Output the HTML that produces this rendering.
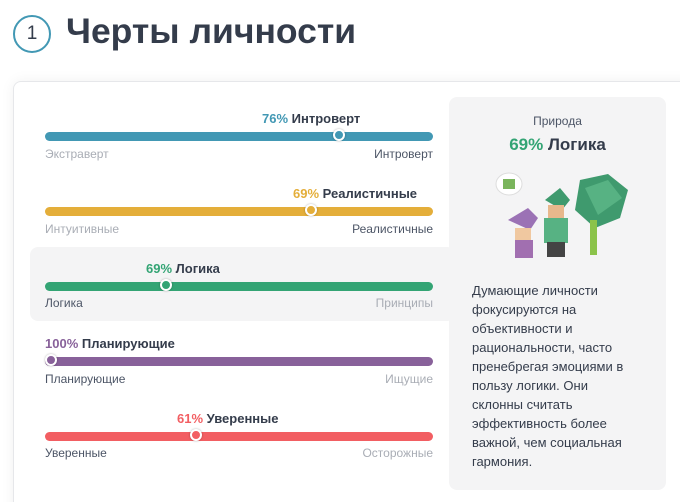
<!DOCTYPE html><html><head><meta charset="utf-8"><style>
html,body{margin:0;width:680px;height:502px;overflow:hidden}
body{background:#fff;position:relative;font-family:"Liberation Sans",sans-serif;}
.a{position:absolute;white-space:nowrap}
.bar{position:absolute;left:45px;width:388px;height:9px;border-radius:5px}
.k{position:absolute;width:8px;height:8px;border-radius:50%;border:2.5px solid #fff;box-shadow:0 0 2px rgba(0,0,0,.3)}
.t{font-size:13px;font-weight:bold;color:#343c4b}
.s{font-size:12px;color:#4c5566}
.g{font-size:12px;color:#a9adb5}
</style></head><body>
<div class="a" style="left:13px;top:15px;width:34px;height:34px;border:2px solid #4298b4;border-radius:50%;text-align:center;line-height:34px;font-size:19px;color:#343c4b">1</div>
<div class="a" style="left:66px;top:11px;font-size:35.5px;font-weight:bold;color:#343c4b">Черты личности</div>
<div class="a" style="left:13px;top:81px;width:700px;height:440px;border:1px solid #e6e7ea;border-radius:8px;box-shadow:0 0 14px rgba(0,0,0,.06)"></div>
<div class="a" style="left:30px;top:247px;width:425px;height:74px;background:#f4f4f5;border-radius:8px"></div>
<div class="a" style="left:449px;top:97px;width:217px;height:393px;background:#f4f4f5;border-radius:8px"></div>

<div class="a t" style="left:262px;top:111px"><span style="color:#4298b4">76%</span> Интроверт</div>
<div class="bar" style="top:132px;background:#4298b4"></div><div class="k" style="left:333px;top:129px;background:#4298b4"></div>
<div class="a g" style="left:45px;top:147px">Экстраверт</div><div class="a s" style="right:247px;top:147px">Интроверт</div>

<div class="a t" style="left:293px;top:186px"><span style="color:#e4ae3a">69%</span> Реалистичные</div>
<div class="bar" style="top:207px;background:#e4ae3a"></div><div class="k" style="left:305px;top:204px;background:#e4ae3a"></div>
<div class="a g" style="left:45px;top:222px">Интуитивные</div><div class="a s" style="right:247px;top:222px">Реалистичные</div>

<div class="a t" style="left:146px;top:261px"><span style="color:#33a474">69%</span> Логика</div>
<div class="bar" style="top:282px;background:#33a474"></div><div class="k" style="left:160px;top:279px;background:#33a474"></div>
<div class="a s" style="left:45px;top:296px">Логика</div><div class="a g" style="right:247px;top:296px">Принципы</div>

<div class="a t" style="left:45px;top:336px"><span style="color:#88619a">100%</span> Планирующие</div>
<div class="bar" style="top:357px;background:#88619a"></div><div class="k" style="left:45px;top:354px;background:#88619a"></div>
<div class="a s" style="left:45px;top:372px">Планирующие</div><div class="a g" style="right:247px;top:372px">Ищущие</div>

<div class="a t" style="left:177px;top:411px"><span style="color:#f25e62">61%</span> Уверенные</div>
<div class="bar" style="top:432px;background:#f25e62"></div><div class="k" style="left:190px;top:429px;background:#f25e62"></div>
<div class="a s" style="left:45px;top:446px">Уверенные</div><div class="a g" style="right:247px;top:446px">Осторожные</div>

<div class="a" style="left:449px;top:114px;width:217px;text-align:center;font-size:12px;color:#4c5566">Природа</div>
<div class="a" style="left:449px;top:135px;width:217px;text-align:center;font-size:17px;font-weight:bold;color:#343c4b"><span style="color:#33a474">69%</span> Логика</div>
<svg class="a" style="left:490px;top:170px" width="140" height="90">
<ellipse cx="19" cy="14" rx="13" ry="11" fill="#fff" stroke="#ddd"/>
<rect x="13" y="9" width="12" height="10" fill="#7ab55c"/>
<polygon points="90,10 118,4 138,20 130,48 105,58 85,40" fill="#3f9a6e"/>
<polygon points="95,18 118,10 132,28 108,45" fill="#57b283"/>
<rect x="100" y="50" width="7" height="35" fill="#8bc34a"/>
<polygon points="18,50 38,38 48,48 40,60" fill="#9b72b5"/>
<rect x="25" y="58" width="16" height="14" fill="#f0c8a0"/>
<rect x="25" y="70" width="18" height="18" fill="#a16fb0"/>
<polygon points="55,30 70,18 80,30 72,40" fill="#3f9a6e"/>
<rect x="58" y="35" width="16" height="14" fill="#e8b88c"/>
<rect x="54" y="48" width="24" height="25" fill="#57b283"/>
<rect x="57" y="72" width="18" height="15" fill="#444"/>
</svg>
<div class="a" style="left:472px;top:281px;width:162px;white-space:normal;font-size:13px;line-height:19px;color:#343c4b">Думающие личности фокусируются на объективности и рациональности, часто пренебрегая эмоциями в пользу логики. Они склонны считать эффективность более важной, чем социальная гармония.</div>
</body></html>
